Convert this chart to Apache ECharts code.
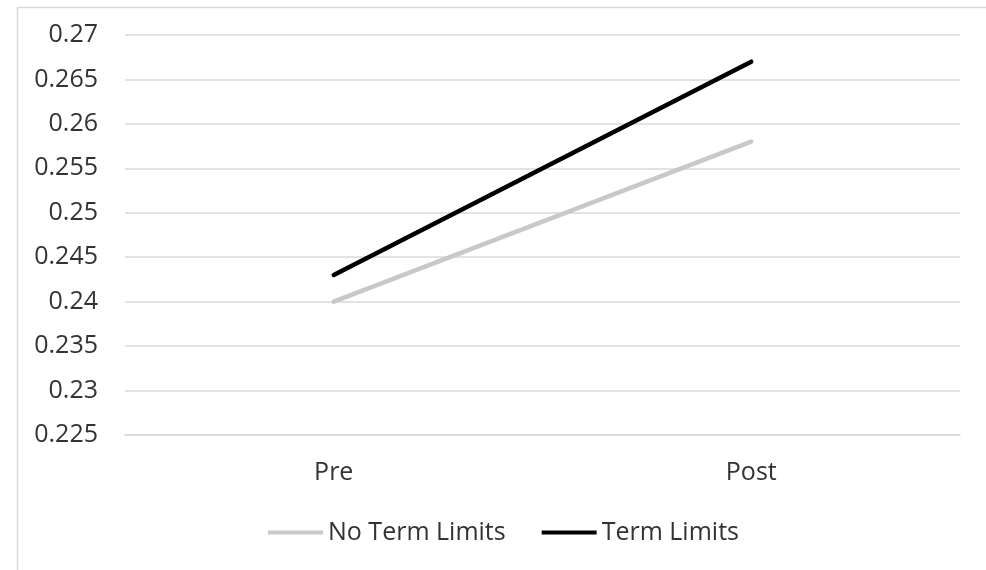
<!DOCTYPE html>
<html>
<head>
<meta charset="utf-8">
<script src="https://cdn.jsdelivr.net/npm/echarts@6/dist/echarts.min.js"></script>
<style>
html,body{margin:0;padding:0;background:#fff;}
#c{width:986px;height:570px;}
</style>
</head>
<body>
<div id="c"></div>
<script>
const categories = ["Pre", "Post"];
const noTermLimits = [0.240, 0.258];
const termLimits = [0.243, 0.267];
const seriesNames = ["No Term Limits", "Term Limits"];

const chart = echarts.init(document.getElementById('c'));
const font = '"Open Sans", "Noto Sans", sans-serif';
const textColor = '#333333';
chart.setOption({
  animation: false,
  backgroundColor: '#fff',
  graphic: [{
    type: 'rect', left: 15, top: 5,
    shape: { width: 1000, height: 600 },
    style: { fill: 'none', stroke: '#d9d9d9', lineWidth: 1.5 },
    silent: true
  }],
  grid: { left: 125, right: 26, top: 35, bottom: 135 },
  legend: {
    left: 268, top: 520, padding: 0,
    itemWidth: 55, itemHeight: 4, itemGap: 36,
    icon: 'rect',
    textStyle: { fontFamily: font, fontSize: 25, color: textColor, padding: [0,0,0,0] },
    data: seriesNames
  },
  xAxis: {
    type: 'category',
    data: categories,
    boundaryGap: true,
    axisLine: { show: true, lineStyle: { color: '#d9d9d9', width: 1.5 } },
    axisTick: { show: false },
    axisLabel: { fontFamily: font, fontSize: 25, color: textColor, margin: 25 }
  },
  yAxis: {
    type: 'value',
    min: 0.225, max: 0.27, interval: 0.005,
    axisLine: { show: false },
    axisTick: { show: false },
    splitLine: { lineStyle: { color: '#d9d9d9', width: 1.5 } },
    axisLabel: {
      fontFamily: font, fontSize: 25, color: textColor, margin: 27,
      formatter: v => String(parseFloat(v.toFixed(3)))
    }
  },
  series: [
    {
      name: seriesNames[0], type: 'line', data: noTermLimits,
      symbol: 'none',
      lineStyle: { color: '#c8c8c8', width: 4.5, cap: 'round' },
      itemStyle: { color: '#c8c8c8' }
    },
    {
      name: seriesNames[1], type: 'line', data: termLimits,
      symbol: 'none',
      lineStyle: { color: '#000000', width: 4.5, cap: 'round' },
      itemStyle: { color: '#000000' }
    }
  ]
});
</script>
</body>
</html>
